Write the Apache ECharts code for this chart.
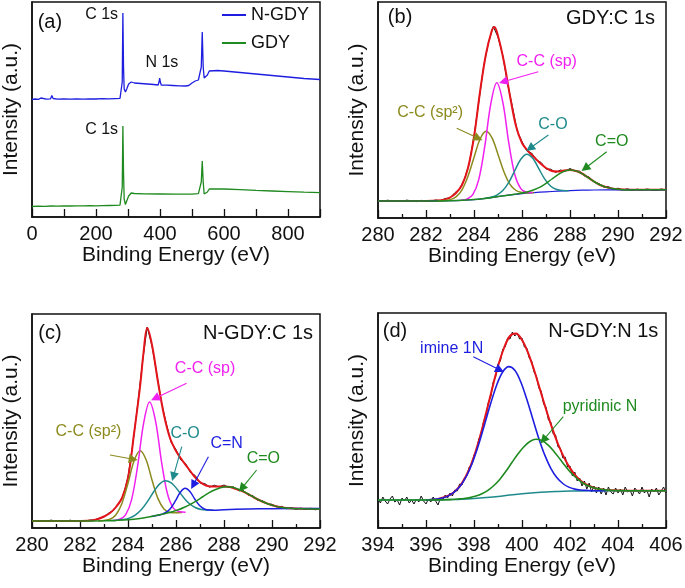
<!DOCTYPE html>
<html><head><meta charset="utf-8">
<script src="https://cdn.jsdelivr.net/npm/echarts/dist/echarts.min.js"></script>
<style>html,body{margin:0;padding:0;background:#fff}#c{width:685px;height:588px}</style>
</head><body><div id="c"></div><script>
// ---------- Panel (a): XPS survey spectra [eV, intensity]
const surveyNGDY = [[0,117.5],[10,118],[20,117.6],[28,119],[30,121],[32,118],[45,117.8],[58,118.2],[62,121.5],[66,118.5],[80,117.9],[100,118.2],[120,117.8],[140,118.1],[160,117.9],[180,118.2],[200,118],[220,118.3],[240,118.1],[260,118.4],[275,118.6],[280,119.5],[282,135],[284,204],[286,150],[288,128],[292,125],[296,128],[302,133],[310,135],[320,134],[340,133.5],[360,133],[380,132.5],[394,132],[397,135],[399,139],[401,135],[404,132],[420,131.8],[440,131.5],[460,131.2],[480,131],[490,131.5],[500,134],[510,136],[520,137],[526,138],[529,150],[532,185],[535,150],[538,139],[542,138],[548,142],[554,146],[560,147],[580,146.5],[600,146],[650,144.5],[700,143],[750,141.5],[800,140],[850,138.5],[900,137.5]];
const surveyGDY = [[0,10.5],[20,10.8],[40,10.6],[60,11],[80,10.9],[100,11.1],[120,11],[140,11.2],[160,11.1],[180,11.3],[200,11.2],[220,11.4],[240,11.5],[260,11.6],[275,11.8],[280,13],[282,30],[284,91],[286,45],[288,18],[292,12.5],[296,16],[302,21],[310,24],[320,23.5],[350,23.2],[400,23],[450,22.8],[500,22.8],[520,23.3],[526,24],[529,35],[532,56],[535,35],[538,23],[542,22.5],[548,25],[554,28],[560,28.5],[600,28],[650,27.3],[700,26.6],[750,26],[800,25.4],[850,24.8],[900,24.3]];

// ---------- Panel (b): GDY C 1s
const bRawStart = 280, bRawStep = 0.2;
const bRaw = [17.5,16.6,17.8,16.9,17.4,16.5,17.9,17.0,16.4,17.6,
 17.2,16.7,18.0,17.3,19.5,20.0,25.2,29.0,39.0,54.2,
 82.0,116.0,151.5,175.0,191.5,181.0,162.5,134.0,111.5,87.0,
 76.5,67.0,65.0,58.0,55.5,49.0,48.8,45.6,48.0,46.8,
 49.5,47.0,46.8,42.2,41.0,35.8,34.5,31.0,31.4,28.6,
 29.8,28.0,29.2,27.6,28.9,27.8,29.0,28.3,27.5,29.1,28.0];
const bEnvelope = [[280,17],[281,17.1],[282,17.1],[282.5,17.4],[282.75,18.3],[283,20.5],[283.25,25],[283.5,33],[283.75,50],[284,81],[284.25,126],[284.5,164],[284.75,188],[284.85,191],[285,182],[285.25,156],[285.5,122],[285.75,92],[286,75],[286.25,67],[286.5,61],[286.75,55],[287,50],[287.25,47],[287.5,46.5],[287.75,47.5],[288,48],[288.25,47],[288.5,44.5],[288.75,40.5],[289,36.5],[289.25,33],[289.5,31],[289.75,29.5],[290,28.8],[290.5,28.3],[291,28.2],[292,28.2]];
const bBackground = [[280,17],[282,17],[282.5,17.1],[283,17.3],[283.5,17.7],[284,18.4],[284.5,19.7],[285,21.4],[285.5,23.1],[286,24.4],[286.5,25.4],[287,26.2],[287.5,26.8],[288,27.4],[288.5,27.8],[289,28],[290,28.1],[292,28.2]];
const bSp2 = [[282.5,17.1],[282.75,17.4],[283,18.35],[283.25,21.2],[283.5,28.2],[283.75,41.7],[284,60.6],[284.25,78.7],[284.5,86.7],[284.75,80.2],[285,63.6],[285.25,46.0],[285.5,33.6],[285.75,27.5],[286,25.45],[286.25,25.1],[286.5,25.4]];
const bSp = [[283.45,17.7],[283.7,18.8],[283.95,23.3],[284.2,38.6],[284.45,71.8],[284.7,114.2],[284.95,135.2],[285.2,115.9],[285.45,75.1],[285.7,43.4],[285.95,29.3],[286.2,25.7],[286.45,25.4]];
const bCO = [[284.45,19.6],[284.7,20.8],[284.95,22.9],[285.2,27.4],[285.45,35.6],[285.7,47.4],[285.95,58.7],[286.2,63.8],[286.45,59.7],[286.7,49.4],[286.95,38.8],[287.2,31.8],[287.45,28.5],[287.7,27.5],[287.95,27.3]];
const bCdO = [[280,17],[282,17],[283,17.3],[284,18.4],[284.5,19.7],[285,21.4],[285.5,23.1],[285.75,24.0],[286,25.0],[286.25,26.25],[286.5,28.2],[286.75,30.9],[287,34.7],[287.25,39.0],[287.5,43.3],[287.75,46.6],[288,48.0],[288.25,47.1],[288.5,44.3],[288.75,40.4],[289,36.5],[289.25,33.2],[289.5,30.9],[289.75,29.45],[290,28.7],[290.25,28.3],[290.5,28.1],[291,28.2],[292,28.2]];

// ---------- Panel (c): N-GDY C 1s
const cRawStart = 280, cRawStep = 0.2;
const cRaw = [7.6,6.5,7.3,6.8,7.9,6.6,7.4,6.9,7.8,6.4,
 7.5,7.0,7.9,8.1,9.8,11.0,15.0,17.6,24.0,32.5,
 51.0,84.0,123.0,165.0,201.0,182.0,154.0,125.0,104.0,85.5,
 78.5,68.0,64.5,55.5,52.5,45.0,44.5,40.8,42.8,41.0,
 43.0,40.5,41.2,37.5,37.8,33.0,32.4,27.8,27.4,24.0,
 23.8,21.0,21.6,19.2,20.4,18.6,19.9,18.5,19.7,18.2,19.5];
const cEnvelope = [[280,7],[282,7.1],[282.5,7.5],[282.75,9],[283,11.5],[283.25,15],[283.5,21],[283.75,30],[284,50],[284.25,94],[284.5,141],[284.65,176],[284.8,200],[285,183],[285.25,146],[285.5,113],[285.75,90],[286,77],[286.25,68],[286.5,60],[286.75,52],[287,46],[287.25,42.5],[287.5,41.5],[287.75,41.5],[288,41.5],[288.25,41],[288.5,39],[288.75,37],[289,34],[289.25,30.5],[289.5,27.5],[289.75,25],[290,22.8],[290.5,20.3],[291,19.4],[292,19]];
const cSp2 = [[282.75,7.1],[283,7.5],[283.25,8.8],[283.5,13.3],[283.75,24.8],[284,44.8],[284.25,66.9],[284.5,77.3],[284.75,68.5],[285,48.0],[285.25,29.4],[285.5,19.1],[285.75,15.6],[286,15.2],[286.25,15.5]];
const cSp = [[283.4,7.5],[283.65,8.7],[283.9,13.2],[284.15,28.4],[284.4,61.9],[284.65,104.7],[284.9,126.1],[285.15,106.7],[285.4,65.7],[285.65,33.7],[285.9,19.6],[286.15,16.2],[286.4,15.8]];
const cCO = [[283.3,7.45],[283.55,7.8],[283.8,8.5],[284.05,9.9],[284.3,12.9],[284.55,18.2],[284.8,26.1],[285.05,35.5],[285.3,43.6],[285.55,47.3],[285.8,45.2],[286.05,38.8],[286.3,31.0],[286.55,24.5],[286.8,20.5],[287.05,18.5],[287.3,17.9],[287.55,17.8]];
const cCN = [[284.98,11.4],[285.18,12.4],[285.38,13.5],[285.58,15.5],[285.78,19.8],[285.98,27.3],[286.18,35.7],[286.38,39.7],[286.58,36.5],[286.78,29.0],[286.98,22.4],[287.18,18.95],[287.38,17.9],[287.58,17.8],[288,18.3],[289,18.9],[290,19.3],[292,19.6]];
const cCdO = [[280,7],[282,7],[283,7.2],[283.5,7.6],[284,8.3],[284.5,9.6],[284.85,11.0],[285.1,12.2],[285.35,13.4],[285.6,14.7],[285.85,16.3],[286.1,18.2],[286.35,20.7],[286.6,23.7],[286.85,27.2],[287.1,31.0],[287.35,34.8],[287.6,38.0],[287.85,40.3],[288.1,41.3],[288.35,40.8],[288.6,38.9],[288.85,36.1],[289.1,32.7],[289.35,29.4],[289.6,26.5],[289.85,24.0],[290.1,22.1],[290.35,20.8],[290.6,20.0],[290.85,19.5],[291.1,19.26],[291.5,19.1],[292,19.0]];

// ---------- Panel (d): N-GDY N 1s
const dRawStart = 394, dRawStep = 0.1;
const dRaw = [30,25,31,27,24,29,32,26,28,23,
 30,27,31,25,28,24,29,26,32,27,
 24,29,26,31,27,23,30,28,33,30,
 35,32,38,37,44,43,50,52,61,63,
 73,77,89,94,107,112,126,131,146,151,
 164,167,179,181,190,189,196,192,195,189,
 190,181,180,170,167,156,152,140,137,124,
 121,108,106,94,93,81,80,70,71,61,
 62,52,56,47,50,42,47,39,45,36,
 42,35,41,34,40,33,41,36,34,40,
 35,39,33,41,36,38,32,40,37,34,
 41,35,38,31,39,36,40,33,37,41,35];
const dEnvelope = [[396,28],[396.5,29.1],[397,33.1],[397.25,37.6],[397.5,44.9],[397.75,56.0],[398,71.5],[398.25,91.2],[398.5,114.4],[398.75,138.8],[399,161.7],[399.25,180.0],[399.5,192.0],[399.75,194.5],[400,188.0],[400.25,175.4],[400.5,158.2],[400.75,138.6],[401,118.8],[401.25,100.3],[401.5,84.0],[401.75,70.6],[402,59.9],[402.25,51.9],[402.5,46.3],[402.75,42.6],[403,40.3],[403.25,38.8],[403.5,38.05],[403.75,37.65],[404,37.45],[405,37.3],[406,37.3]];
const dBackground = [[394,28],[396,28],[396.5,28.1],[397,28.4],[397.5,28.8],[398,29.5],[398.5,30.4],[399,31.5],[399.5,33],[400,34.2],[400.5,35.2],[401,36],[401.5,36.5],[402,36.9],[402.5,37.1],[403,37.3],[404,37.3],[406,37.3]];
const dImine = [[396,28],[396.2,28.45],[396.45,29.0],[396.7,30.1],[396.95,32.4],[397.2,36.35],[397.45,42.75],[397.7,52.5],[397.95,66.3],[398.2,83.95],[398.45,104.25],[398.7,124.9],[398.95,143.3],[399.2,156.2],[399.45,161.35],[399.7,157.7],[399.95,146.0],[400.2,128.7],[400.45,109.0],[400.7,89.6],[400.95,72.85],[401.2,59.7],[401.45,50.45],[401.7,44.5],[401.95,40.85],[402.2,38.9],[402.45,38.0],[402.7,37.6],[403,37.3],[403.5,37.3]];
const dPyridinic = [[394,28],[396,28],[397,28.4],[397.33,29.0],[397.58,29.5],[397.83,30.4],[398.08,31.9],[398.33,34.25],[398.58,37.7],[398.83,42.5],[399.08,48.8],[399.33,56.7],[399.58,65.5],[399.83,74.0],[400.08,81.3],[400.33,86.5],[400.58,88.7],[400.83,87.5],[401.08,83.1],[401.33,76.6],[401.58,69.0],[401.83,61.2],[402.08,54.2],[402.33,48.6],[402.58,44.3],[402.83,41.45],[403.08,39.64],[403.33,38.5],[403.58,37.9],[403.83,37.57],[404.08,37.4],[404.5,37.3],[406,37.3]];

// ---------- rendering
const FONT = 'Liberation Sans, Arial, Helvetica, sans-serif';
const COL = {blue:'#1e1ee0', green:'#1f8a1f', red:'#e3141a', magenta:'#f020f0', olive:'#8c8a1e', teal:'#1f8a8c', black:'#111111'};

function pairs(start, step, ys){ return ys.map((y,i)=>[+(start+i*step).toFixed(3), y]); }

function line(name, data, color, width, gi, smooth){
  return {type:'line', name:name, data:data, xAxisIndex:gi, yAxisIndex:gi,
    symbol:'none', showSymbol:false, smooth: smooth===undefined?0.35:smooth, silent:true,
    lineStyle:{color:color, width:width}, itemStyle:{color:color}};
}
function notes(texts, arrows){
  const o = {};
  o.markPoint = {silent:true, animation:false, data: texts.map(t=>({
    coord:t.c, symbol:'circle', symbolSize:1, itemStyle:{color:'rgba(0,0,0,0)'},
    label:{show:true, position:'inside', formatter:t.t, color:t.color||'#111', fontSize:t.size||16,
      fontFamily:FONT, align:t.align||'center', verticalAlign:'middle'}}))};
  if (arrows && arrows.length){
    o.markLine = {silent:true, animation:false, symbol:['none','triangle'], symbolSize:9,
      label:{show:false}, emphasis:{disabled:true}, lineStyle:{type:'solid', width:1.1},
      data: arrows.map(a=>[
        {coord:a.from, symbol:'none', lineStyle:{color:a.color, width:1.1, type:'solid'}, itemStyle:{color:a.color}},
        {coord:a.to, symbol:'triangle', symbolSize:9, itemStyle:{color:a.color}}])};
  }
  return o;
}
function grid(l,t,w,h){ return {left:l, top:t, width:w, height:h, show:true, borderColor:'#111', borderWidth:1.5, backgroundColor:'transparent', containLabel:false, outerBoundsMode:'none'}; }
function xAx(gi, min, max, interval, fmt, minor){
  return {type:'value', gridIndex:gi, min:min, max:max, interval:interval,
    name:'Binding Energy (eV)', nameLocation:'middle', nameGap:28,
    nameTextStyle:{fontSize:21, color:'#111', fontFamily:FONT},
    axisLine:{show:true, lineStyle:{color:'#111', width:1.5}},
    axisTick:{show:true, inside:true, length:8, lineStyle:{color:'#111', width:1.3}},
    minorTick:{show:!!minor, splitNumber:2, length:4, lineStyle:{color:'#111', width:1.3}},
    splitLine:{show:false}, minorSplitLine:{show:false},
    axisLabel:{fontSize:20, color:'#111', margin:7, fontFamily:FONT, showMaxLabel:true, showMinLabel:true, formatter:fmt}};
}
function yAx(gi, max){
  return {type:'value', gridIndex:gi, min:0, max:max,
    name:'Intensity (a.u.)', nameLocation:'middle', nameGap:10,
    nameTextStyle:{fontSize:21, color:'#111', fontFamily:FONT},
    axisLine:{show:true, lineStyle:{color:'#111', width:1.5}},
    axisTick:{show:false}, axisLabel:{show:false}, splitLine:{show:false}};
}

const sNGDY = line('N-GDY', surveyNGDY, COL.blue, 1.3, 0, false);
Object.assign(sNGDY, notes([
  {c:[56,195], t:'(a)', size:20},
  {c:[269,202.5], t:'C 1s', align:'right'},
  {c:[406,154], t:'N 1s'},
  {c:[269,87], t:'C 1s', align:'right'}
]));
const sGDY = line('GDY', surveyGDY, COL.green, 1.3, 0, false);

const bEnvS = line('bEnv', bEnvelope, COL.red, 2, 1);
Object.assign(bEnvS, notes([
  {c:[280.92,201], t:'(b)', size:20},
  {c:[291.54,200], t:'GDY:C 1s', size:20, align:'right'},
  {c:[287.03,156.3], t:'C-C (sp)', color:COL.magenta},
  {c:[282.17,105], t:'C-C (sp²)', color:COL.olive},
  {c:[287.29,93], t:'C-O', color:COL.teal},
  {c:[289.74,76.3], t:'C=O', color:COL.green}
],[
  {from:[286.68,146.3], to:[285.22,136.3], color:COL.magenta},
  {from:[283.28,89.7], to:[284.18,79.7], color:COL.olive},
  {from:[287.1,83], to:[286.33,69.7], color:COL.teal},
  {from:[289.53,66.3], to:[288.63,49.7], color:COL.green}
]));

const cEnvS = line('cEnv', cEnvelope, COL.red, 2, 2);
Object.assign(cEnvS, notes([
  {c:[280.75,194.7], t:'(c)', size:20},
  {c:[291.71,195], t:'N-GDY:C 1s', size:20, align:'right'},
  {c:[287.21,159.7], t:'C-C (sp)', color:COL.magenta},
  {c:[282.35,96.3], t:'C-C (sp²)', color:COL.olive},
  {c:[286.38,94.7], t:'C-O', color:COL.teal},
  {c:[288.11,84.7], t:'C=N', color:COL.blue},
  {c:[289.64,69.7], t:'C=O', color:COL.green}
],[
  {from:[286.44,144.7], to:[285.13,129.7], color:COL.magenta},
  {from:[283.25,73], to:[284.22,68.7], color:COL.olive},
  {from:[286.24,81.3], to:[285.89,51.3], color:COL.teal},
  {from:[287.35,71.3], to:[286.72,43], color:COL.blue},
  {from:[289.36,58], to:[288.74,39.7], color:COL.green}
]));

const dEnvS = line('dEnv', dEnvelope, COL.red, 2, 3);
Object.assign(dEnvS, notes([
  {c:[394.71,196.3], t:'(d)', size:20},
  {c:[405.68,196.3], t:'N-GDY:N 1s', size:20, align:'right'},
  {c:[397.07,179.7], t:'imine 1N', color:COL.blue},
  {c:[403.25,121.3], t:'pyridinic N', color:COL.green}
],[
  {from:[397.97,171.3], to:[399.08,158], color:COL.blue},
  {from:[401.72,111.3], to:[400.89,88], color:COL.green}
]));

const fmtA = v => (v % 200 === 0 ? String(v) : '');
const fmtE = v => String(v);

const option = {
  animation:false,
  backgroundColor:'#ffffff',
  textStyle:{fontFamily:FONT},
  legend:{data:[{name:'N-GDY', icon:'rect', itemStyle:{color:COL.blue}}, {name:'GDY', icon:'rect', itemStyle:{color:COL.green}}],
    left:217, top:1, orient:'vertical', itemWidth:24, itemHeight:2, itemGap:10,
    selectedMode:false, textStyle:{fontSize:18, color:'#111', fontFamily:FONT}},
  grid:[grid(32,2,288,215), grid(378,2,288,216), grid(32,314,288,214), grid(378,313,288,215)],
  xAxis:[xAx(0,0,900,100,fmtA,false), xAx(1,280,292,2,fmtE,true), xAx(2,280,292,2,fmtE,true), xAx(3,394,406,2,fmtE,true)],
  yAxis:[yAx(0,215), yAx(1,216), yAx(2,214), yAx(3,215)],
  series:[
    sNGDY, sGDY,
    line('bRaw', pairs(bRawStart,bRawStep,bRaw), COL.black, 1, 1, false),
    bEnvS,
    line('bBg', bBackground, COL.blue, 1.2, 1),
    line('bSp2', bSp2, COL.olive, 1.5, 1),
    line('bSp', bSp, COL.magenta, 1.5, 1),
    line('bCO', bCO, COL.teal, 1.5, 1),
    line('bCdO', bCdO, COL.green, 1.5, 1),
    line('cRaw', pairs(cRawStart,cRawStep,cRaw), COL.black, 1, 2, false),
    cEnvS,
    line('cSp2', cSp2, COL.olive, 1.5, 2),
    line('cSp', cSp, COL.magenta, 1.5, 2),
    line('cCO', cCO, COL.teal, 1.5, 2),
    line('cCN', cCN, COL.blue, 1.5, 2),
    line('cCdO', cCdO, COL.green, 1.5, 2),
    line('dRaw', pairs(dRawStart,dRawStep,dRaw), COL.black, 1, 3, false),
    dEnvS,
    line('dBg', dBackground, COL.teal, 1.5, 3),
    line('dImine', dImine, COL.blue, 1.6, 3),
    line('dPyr', dPyridinic, COL.green, 1.6, 3)
  ]
};
const chart = echarts.init(document.getElementById('c'), null, {renderer:'canvas'});
chart.setOption(option);
</script></body></html>
